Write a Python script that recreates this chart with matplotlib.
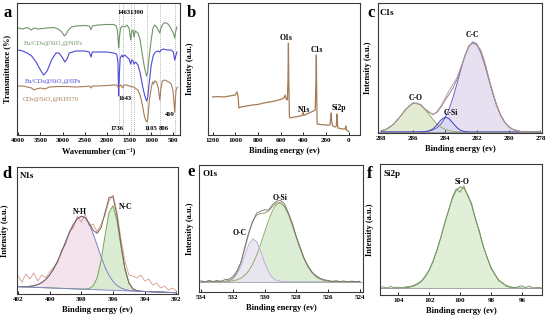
import matplotlib
matplotlib.use('Agg')
import matplotlib.pyplot as plt
import numpy as np

plt.rcParams['font.family'] = ['Liberation Serif', 'DejaVu Serif']
plt.rcParams['font.weight'] = 'bold'
plt.rcParams['axes.labelweight'] = 'bold'

W, H = 550, 320

# ---------------- a: FTIR ----------------
wn_nips = [4000, 3900, 3800, 3700, 3650, 3550, 3450, 3350, 3200, 3100, 3020, 2960, 2920, 2870, 2800,
           2700, 2500, 2400, 2360, 2330, 2200, 2000, 1850, 1790, 1760, 1736, 1715, 1690, 1650, 1600,
           1550, 1500, 1463, 1440, 1410, 1390, 1360, 1300, 1250, 1200, 1150, 1105, 1080, 1050, 1000,
           960, 920, 880, 840, 806, 780, 720, 650, 600, 550, 500, 469, 450, 420]
t_nips = [107, 106, 107.5, 105, 107, 106, 106.5, 107, 107.5, 106, 103, 99, 101, 105, 108,
          109, 109.5, 109, 105.5, 109, 110, 110.5, 110.5, 109, 104, 87, 99, 107, 109, 108,
          110, 107, 95, 104, 105, 98, 104, 102, 95, 80, 67, 59, 63, 77, 95,
          107, 110, 108, 105, 102, 107, 112, 112, 110, 106, 102, 97, 103, 108]

wn_iips = [4000, 3900, 3800, 3700, 3600, 3500, 3430, 3350, 3250, 3150, 3080, 3000, 2950, 2900, 2850,
           2700, 2500, 2400, 2360, 2330, 2200, 2000, 1850, 1780, 1750, 1736, 1720, 1700, 1660, 1643,
           1600, 1550, 1500, 1463, 1440, 1410, 1390, 1350, 1300, 1250, 1200, 1150, 1105, 1080, 1050,
           1000, 950, 900, 850, 806, 780, 720, 650, 600, 550, 500, 469, 440, 420]
t_iips = [85, 84, 82, 79, 73, 65, 60, 64, 75, 82, 82, 77, 73, 76, 82,
          84, 84, 83, 78, 83, 83, 83, 82, 81, 73, 39, 60, 77, 80, 78,
          80, 78, 76, 71, 75, 74, 71, 73, 70, 62, 50, 40, 34, 37, 50,
          70, 80, 83, 84, 83, 85, 86, 85, 85, 85, 83, 75, 80, 83]

wn_kh = [4000, 3900, 3800, 3700, 3650, 3600, 3500, 3400, 3300, 3100, 2900, 2700, 2500, 2400, 2360,
         2330, 2200, 2000, 1850, 1780, 1736, 1710, 1680, 1643, 1610, 1550, 1500, 1400, 1300, 1250,
         1200, 1150, 1105, 1080, 1040, 1000, 970, 950, 920, 880, 840, 806, 780, 750, 700,
         650, 600, 550, 510, 490, 469, 455, 440, 410]
t_kh = [49, 49, 48, 47, 45, 46, 47, 46, 48, 48.5, 48.5, 48, 48.5, 49, 47,
        49, 49, 49.5, 50, 50, 47, 49, 50, 47, 50, 50, 49, 48, 45, 40,
        30, 18, 13, 15, 35, 47, 53, 51, 54, 53, 47, 35, 47, 54, 55,
        54, 53, 51, 45, 35, 23, 35, 45, 48]

ftir_marks = [1736, 1643, 1463, 1390, 1105, 806, 469]
ftir_ticks = [4000, 3500, 3000, 2500, 2000, 1500, 1000, 500]

# ---------------- b: survey ----------------
be_survey = [1200, 1150, 1100, 1050, 1000, 985, 975, 968, 950, 900, 850, 800, 750, 700, 650,
             600, 570, 560, 550, 540, 535, 531, 528, 522, 515, 500, 450, 410, 400, 395,
             350, 310, 295, 288, 285, 282, 278, 250, 200, 165, 158, 153, 150, 140, 120,
             108, 104, 100, 96, 50, 30, 25, 20, 0]
i_survey = [38, 38.5, 38, 39, 40, 43, 39, 27, 28, 29, 30, 30.5, 32, 33, 34,
            35.5, 37, 40, 36, 35, 55, 92, 55, 18, 17, 17.5, 18.5, 19.5, 23, 19.5,
            22, 24, 25, 55, 80, 45, 11, 10.5, 10, 10, 17, 22, 13, 9, 8,
            9, 21, 15, 7, 6, 6, 9, 5, 3.5]

# ---------------- c: C1s ----------------
be_c = np.linspace(288, 278, 41)
c_cc = [0] * 9 + [0.1, 0.2, 0.4, 1.0, 2.1, 4.2, 7.9, 13.8, 22.4, 33.9, 47.6, 62.2, 75.6, 85.4,
                  89.9, 87.9, 80.0, 67.8, 53.4, 39.2, 26.6, 16.9, 10.0, 5.5, 2.8, 1.3, 0.6, 0.2,
                  0.1, 0, 0, 0]
c_co = [1.2, 2.4, 4.4, 7.5, 11.6, 16.6, 21.6, 26.0, 28.6, 28.8, 26.6, 22.6, 17.6, 12.6, 8.2,
        4.9, 2.7, 1.4, 0.6, 0.3, 0.1] + [0] * 20
c_csi = [0] * 11 + [0.2, 1.0, 3.1, 7.1, 12.0, 14.9, 13.6, 9.1, 4.5, 1.6, 0.4, 0.1] + [0] * 18
c_raw = [1.5, 2.0, 5.0, 7.0, 12.5, 16.0, 22.5, 25.5, 29.5, 28.0, 27.5, 22.5, 20.5, 17.0, 20.5,
         26.0, 33.5, 41.0, 47.5, 54.0, 64.5, 75.0, 86.5, 88.5, 87.0, 82.5, 71.0, 55.0, 40.5,
         27.5, 17.0, 9.5, 6.0, 2.5, 1.8, 0.5, 0.8, 0.2, 0.5, 0.0, 0.3]
c_base = 1.0

# ---------------- d: N1s ----------------
be_d = np.linspace(402, 392, 41)
d_base = [7.3, 7.15, 7.0, 6.85, 6.7, 6.55, 6.4, 6.25, 6.1, 5.95, 5.8, 5.65, 5.5, 5.35, 5.2,
          5.05, 4.9, 4.75, 4.6, 4.45, 4.3, 4.15, 4.0, 3.85, 3.7, 3.55, 3.4, 3.25, 3.1, 2.95,
          2.8, 2.65, 2.5, 2.35, 2.2, 2.05, 1.9, 1.75, 1.6, 1.45, 1.3]
d_nh = [0.1, 0.2, 0.4, 0.8, 1.6, 2.9, 5.0, 8.2, 12.8, 19.1, 27.0, 36.3, 46.3, 56.1, 64.4,
        70.3, 72.9, 71.4, 65.3, 55.6, 44.3, 32.9, 22.8, 14.7, 8.9, 5.0, 2.6, 1.3, 0.6, 0.2,
        0.1] + [0] * 10
d_nc = [0] * 17 + [0.2, 0.9, 3.7, 12.0, 29.4, 54.8, 77.9, 84.5, 69.9, 44.1, 21.2, 7.8, 2.2,
                   0.5, 0.1] + [0] * 9
d_raw = [18, 12, 20, 15, 21, 13, 19, 16, 22, 27, 31, 44, 49, 63, 66, 78, 72, 80, 68, 70,
         62, 70, 79, 93, 99, 82, 55, 33, 19, 18, 16, 19, 13, 15, 9, 11, 6, 8, 4, 6, 3]

# ---------------- e: O1s ----------------
be_e = np.linspace(534, 524, 41)
e_osi = [0] * 5 + [0.1, 0.2, 0.4, 0.8, 1.8, 3.5, 6.4, 10.9, 17.5, 26.4, 37.4, 49.4, 61.2, 71.1,
                   77.4, 78.9, 75.4, 67.5, 56.6, 44.5, 32.8, 22.6, 14.6, 8.9, 5.0, 2.7, 1.3, 0.6,
                   0.3, 0.1] + [0] * 6
e_oc = [0] * 6 + [0.2, 0.8, 2.6, 7.0, 14.9, 26.1, 37.1, 42.8, 40.2, 30.8, 19.1, 9.7, 4.0, 1.3,
                  0.4, 0.1] + [0] * 19
e_raw = [1.0, -0.5, 1.5, 0.2, 1.2, 0.5, 2.0, 2.5, 5.0, 10.5, 19.0, 34.5, 49.0, 60.0, 68.5,
         70.5, 72.0, 71.5, 77.0, 80.5, 81.5, 78.0, 69.0, 58.5, 45.0, 34.0, 23.0, 15.5, 9.5,
         6.0, 3.5, 2.0, 1.2, 0.3, 1.0, 0.2, 0.8, -0.3, 0.6, 0.0, 0.4]
e_base = 10.3

# ---------------- f: Si2p ----------------
be_f = np.linspace(105.25, 94.75, 43)
f_sio = [0, 0, 0, 0, 0.1, 0.1, 0.3, 0.6, 1.1, 2.2, 4.0, 6.9, 11.4, 17.9, 26.6, 37.7, 50.6,
         64.4, 78.0, 89.7, 97.9, 101.5, 100.0, 93.5, 83.0, 69.9, 56.0, 42.6, 30.8, 21.1, 13.7,
         8.5, 5.0, 2.8, 1.5, 0.7, 0.4, 0.2, 0.1, 0, 0, 0, 0]
f_raw = [0.5, 1.5, 0.3, 1.8, 0.6, 1.2, 0.4, 1.5, 1.8, 3.0, 5.0, 7.5, 12.5, 18.5, 27.5, 38.5,
         51.0, 65.5, 77.0, 91.0, 99.5, 96.0, 102.5, 92.0, 85.0, 68.5, 57.5, 41.5, 31.5, 20.0,
         14.5, 7.5, 5.5, 2.0, 1.0, 0.5, 1.5, 2.5, 0.8, 2.2, 0.3, 1.0, 0.5]
f_base = 6.7

GREEN = '#6f9467'
BLUE = '#4a48d6'
BROWN = '#a57c58'
GRID = '#9a9a9a'

fig = plt.figure(figsize=(5.5, 3.2), dpi=100)


def panel(l, t, r, b):
    ax = fig.add_axes([l / W, 1 - b / H, (r - l) / W, (b - t) / H])
    ax.tick_params(axis='x', direction='in', length=2, width=0.6, labelsize=5, pad=2)
    ax.set_yticks([])
    for s in ax.spines.values():
        s.set_linewidth(0.8)
        s.set_color('#3a3a3a')
    return ax


def letter(x, y, s):
    fig.text(x / W, 1 - y / H, s, fontsize=12, weight='bold', va='baseline')


def xps_labels(ax, ypad):
    ax.set_xlabel('Binding energy (ev)', fontsize=6, labelpad=3)
    ax.set_ylabel('Intensity (a.u.)', fontsize=6, labelpad=ypad)


# a
ax = panel(17, 3, 180, 135)
for w in ftir_marks:
    ax.axvline(w, color=GRID, ls=(0, (1, 1.5)), lw=0.6, zorder=1)
ax.plot(wn_nips, t_nips, color=GREEN, lw=0.8)
ax.plot(wn_iips, t_iips, color=BLUE, lw=0.8)
ax.plot(wn_kh, t_kh, color=BROWN, lw=0.8)
ax.set_xlim(4030, 350)
ax.set_ylim(0, 132)
ax.set_xticks(ftir_ticks)
ax.set_xlabel('Wavenumber (cm⁻¹)', fontsize=6, labelpad=3)
ax.set_ylabel('Transmittance (%)', fontsize=6, labelpad=4)
lab = dict(fontsize=4.8, weight='normal', ha='center', va='center')
ax.text(3210, 92, 'Eu/CDs@SiO₂@NIPs', color=GREEN, **lab)
ax.text(3210, 54, 'Eu/CDs@SiO₂@IIPs', color=BLUE, **lab)
ax.text(3260, 35, 'CDs@SiO₂@KH570', color=BROWN, **lab)
num = dict(fontsize=4.8, weight='bold', ha='center', va='center')
ax.text(1460, 123, '14631390', **num)
ax.text(1585, 37, '1643', **num)
ax.text(1765, 7, '1736', **num)
ax.text(995, 7, '1105', **num)
ax.text(720, 7, '806', **num)
ax.text(584, 20, '469', **num)
letter(4, 17, 'a')

# b
ax = panel(208, 3, 360, 135)
ax.plot(be_survey, i_survey, color=BROWN, lw=0.9)
ax.set_xlim(1240, -100)
ax.set_ylim(0, 132)
ax.set_xticks([1200, 1000, 800, 600, 400, 200, 0])
xps_labels(ax, 10)
pk = dict(fontsize=5.5, weight='bold', ha='center', va='center')
ax.text(548, 97, 'O1s', **pk)
ax.text(277, 85, 'C1s', **pk)
ax.text(390, 25, 'N1s', **pk)
ax.text(90, 27, 'Si2p', **pk)
letter(187, 17, 'b')

# c
ax = panel(378, 3, 542, 133)
cc = np.array(c_cc) + c_base
co = np.array(c_co) + c_base
csi = np.array(c_csi) + c_base
ax.fill_between(be_c, c_base, cc, color='#e7e0f1', lw=0)
ax.fill_between(be_c, c_base, co, color='#e3ecd3', lw=0)
ax.fill_between(be_c, c_base, csi, color='#d9d9f3', lw=0)
ax.plot(be_c, cc, color='#6d5fbf', lw=0.7)
ax.plot(be_c, co, color='#9aad6a', lw=0.7)
ax.plot(be_c, csi, color='#3d3ccc', lw=0.7)
ax.plot(be_c, np.array(c_cc) + np.array(c_co) + np.array(c_csi) + c_base, color='#8f84a8', lw=0.7)
ax.plot(be_c, np.array(c_raw) + c_base, color='#b59a86', lw=0.6)
ax.axhline(c_base, color='#8f8f8f', lw=0.6)
ax.set_xlim(288.2, 277.9)
ax.set_ylim(0, 130)
ax.set_xticks([288, 286, 284, 282, 280, 278])
xps_labels(ax, 4)
ax.text(0.01, 0.925, 'C1s', transform=ax.transAxes, fontsize=6.5, weight='bold', va='center')
ax.text(282.28, 98, 'C-C', **pk)
ax.text(285.86, 35, 'C-O', **pk)
ax.text(283.6, 20, 'C-Si', **pk)
letter(367, 17, 'c')

# d
ax = panel(17, 167, 178, 294)
nh = np.array(d_nh) + np.array(d_base)
nc = np.array(d_nc) + np.array(d_base)
ax.fill_between(be_d, d_base, nh, color='#f4e3ec', lw=0)
ax.fill_between(be_d, d_base, nc, color='#d6ebcf', lw=0, alpha=0.9)
ax.plot(be_d, d_raw, color='#d79a8a', lw=0.6)
ax.plot(be_d, nh, color='#8480d2', lw=0.7)
ax.plot(be_d, nc, color='#6fa34f', lw=0.7)
ax.plot(be_d, np.array(d_nh) + np.array(d_nc) + np.array(d_base), color='#7a6555', lw=0.7)
ax.plot(be_d, d_base, color='#8480d2', lw=0.6)
ax.set_xlim(402.06, 391.9)
ax.set_ylim(0, 127)
ax.set_xticks([402, 400, 398, 396, 394, 392])
xps_labels(ax, 5.5)
ax.text(0.02, 0.93, 'N1s', transform=ax.transAxes, fontsize=6.5, weight='bold', va='center')
ax.text(398.1, 82, 'N-H', **pk)
ax.text(395.2, 87, 'N-C', **pk)
letter(2, 178, 'd')

# e
ax = panel(199, 165, 363, 292)
osi = np.array(e_osi) + e_base
oc = np.array(e_oc) + e_base
ax.fill_between(be_e, e_base, osi, color='#dcedd6', lw=0)
ax.fill_between(be_e, e_base, oc, color='#ebe5f2', lw=0, alpha=0.9)
ax.plot(be_e, osi, color='#8fae6a', lw=0.7)
ax.plot(be_e, oc, color='#b9b2da', lw=0.7)
ax.plot(be_e, np.array(e_osi) + np.array(e_oc) + e_base, color='#a39a6a', lw=0.7)
ax.plot(be_e, np.array(e_raw) + e_base, color='#6f6f6f', lw=0.6)
ax.axhline(e_base, color='#a0a0a0', lw=0.6)
ax.set_xlim(534.13, 523.8)
ax.set_ylim(0, 127)
ax.set_xticks([534, 532, 530, 528, 526, 524])
xps_labels(ax, 3.6)
ax.text(0.02, 0.93, 'O1s', transform=ax.transAxes, fontsize=6.5, weight='bold', va='center')
ax.text(529.03, 94, 'O-Si', **pk)
ax.text(531.6, 59, 'O-C', **pk)
letter(187, 176, 'e')

# f
ax = panel(380, 164, 542, 295)
sio = np.array(f_sio) + f_base
ax.fill_between(be_f, f_base, sio, color='#e1efd9', lw=0)
ax.plot(be_f, np.array(f_raw) + f_base, color='#7f8a72', lw=0.6)
ax.plot(be_f, sio, color='#6f9a5c', lw=0.7)
ax.axhline(f_base, color='#9a9a9a', lw=0.6)
ax.set_xlim(105.19, 94.69)
ax.set_ylim(0, 131)
ax.set_xticks([104, 102, 100, 98, 96])
xps_labels(ax, 4.3)
ax.text(0.02, 0.92, 'Si2p', transform=ax.transAxes, fontsize=6.5, weight='bold', va='center')
ax.text(99.87, 113, 'Si-O', **pk)
letter(367, 178, 'f')

fig.savefig('out.png', dpi=100)
